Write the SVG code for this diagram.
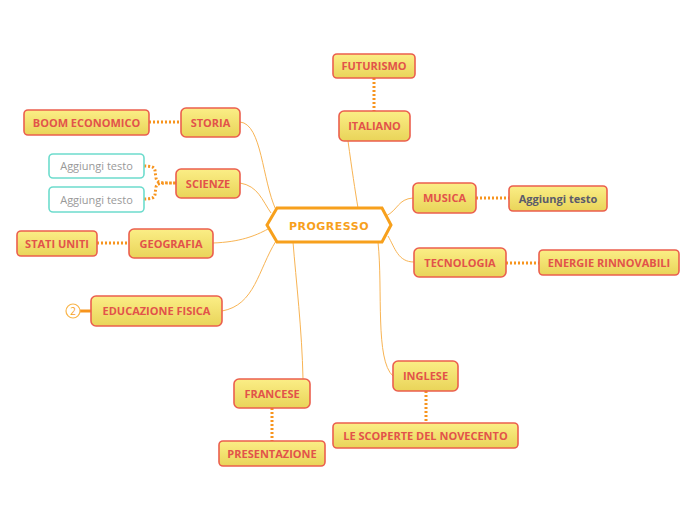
<svg xmlns="http://www.w3.org/2000/svg" width="696" height="520" viewBox="0 0 696 520">
<defs>
<linearGradient id="yg" x1="0" y1="0" x2="0" y2="1">
<stop offset="0" stop-color="#fbee86"/>
<stop offset="1" stop-color="#e9d459"/>
</linearGradient>
</defs>
<style>
.n{fill:url(#yg);stroke:#eb5f4e;stroke-width:1.6}
.t{font-family:"Open Sans","DejaVu Sans",sans-serif;font-weight:bold;font-size:11px;fill:#e2534a;text-anchor:middle}
.g{font-family:"Open Sans","DejaVu Sans",sans-serif;font-size:11px;fill:#999;text-anchor:middle}
.w{fill:#fff;stroke:#6ddccd;stroke-width:1.6}
.c{fill:none;stroke:#f8b454;stroke-width:1}
.d{fill:none;stroke:#f7941d;stroke-width:3;stroke-dasharray:2 2}
</style>
<rect width="696" height="520" fill="#fff"/>
<g id="connectors">
<path class="c" d="M240,122 C262,124 262,180 276,210"/>
<path class="c" d="M348,141 C352,170 355,190 358,208"/>
<path class="c" d="M240,183 C258,186 262,200 271,213"/>
<path class="c" d="M213,243 C240,242 255,236 268,229"/>
<path class="c" d="M222,311 C255,305 258,270 276,241"/>
<path class="c" d="M303,379 C302,330 296,280 293,242"/>
<path class="c" d="M393,376 C375,360 383,290 378,242"/>
<path class="c" d="M413,198 C398,199 398,210 386,216"/>
<path class="c" d="M414,262 C398,262 395,248 388,236"/>
<path class="d" d="M374,78 V111"/>
<path class="d" d="M149,122 H181"/>
<path class="d" d="M144,166 C158,166 154,170 156,177 C156,183 160,183 176,183 M144,199 C158,199 154,195 156,188 C156,183 160,183 176,183"/>
<path class="d" d="M97,243 H129"/>
<path class="d" d="M476,198 H509"/>
<path class="d" d="M506,263 H539"/>
<path class="d" d="M426,391 V423"/>
<path class="d" d="M272,408 V441"/>
<path d="M80,311 H91" stroke="#f7941d" stroke-width="3"/>
</g>
<g id="n-progresso">
<polygon points="267,225 277,208 382,208 391,225 382,242 277,242" fill="#fff" stroke="#f7a01c" stroke-width="3"/>
<text x="329" y="230" font-family="'DejaVu Sans',sans-serif" font-weight="900" font-size="11" fill="#f7a01c" text-anchor="middle" letter-spacing="0.5">PROGRESSO</text>
</g>
<g id="n-futurismo"><rect class="n" x="333" y="54" width="82" height="24" rx="4"/><text class="t" x="374" y="70">FUTURISMO</text></g>
<g id="n-italiano"><rect class="n" x="339" y="111" width="71" height="30" rx="5"/><text class="t" x="374.5" y="130">ITALIANO</text></g>
<g id="n-storia"><rect class="n" x="181" y="108" width="59" height="29" rx="5"/><text class="t" x="210.5" y="127">STORIA</text></g>
<g id="n-boom"><rect class="n" x="24" y="110" width="125" height="25" rx="4"/><text class="t" x="86.5" y="127">BOOM ECONOMICO</text></g>
<g id="n-scienze"><rect class="n" x="176" y="169" width="64" height="29" rx="5"/><text class="t" x="208" y="188">SCIENZE</text></g>
<g id="n-agg1"><rect class="w" x="49" y="154" width="95" height="24" rx="4"/><text class="g" x="96.5" y="170">Aggiungi testo</text></g>
<g id="n-agg2"><rect class="w" x="49" y="187" width="95" height="25" rx="4"/><text class="g" x="96.5" y="204">Aggiungi testo</text></g>
<g id="n-geografia"><rect class="n" x="129" y="229" width="84" height="29" rx="5"/><text class="t" x="171" y="248">GEOGRAFIA</text></g>
<g id="n-stati"><rect class="n" x="17" y="231" width="80" height="25" rx="4"/><text class="t" x="57" y="248">STATI UNITI</text></g>
<g id="n-edu"><rect class="n" x="91" y="296" width="131" height="30" rx="5"/><text class="t" x="156.5" y="315">EDUCAZIONE FISICA</text></g>
<g id="n-badge"><circle cx="73" cy="311" r="7" fill="#fff" stroke="#f9b54a" stroke-width="1.2"/><text x="73" y="315" font-family="'Open Sans',sans-serif" font-size="10" fill="#f7a01c" text-anchor="middle">2</text></g>
<g id="n-musica"><rect class="n" x="413" y="183" width="63" height="30" rx="5"/><text class="t" x="444.5" y="202">MUSICA</text></g>
<g id="n-agg3"><rect class="n" x="509" y="186" width="98" height="25" rx="4"/><text class="t" x="558" y="203" fill="#5a5a6a" style="fill:#5b5b6b">Aggiungi testo</text></g>
<g id="n-tecnologia"><rect class="n" x="414" y="248" width="92" height="29" rx="5"/><text class="t" x="460" y="267">TECNOLOGIA</text></g>
<g id="n-energie"><rect class="n" x="539" y="250" width="140" height="25" rx="4"/><text class="t" x="609" y="267">ENERGIE RINNOVABILI</text></g>
<g id="n-inglese"><rect class="n" x="393" y="361" width="65" height="30" rx="5"/><text class="t" x="425.5" y="380">INGLESE</text></g>
<g id="n-scoperte"><rect class="n" x="333" y="423" width="185" height="25" rx="4"/><text class="t" x="425.5" y="440">LE SCOPERTE DEL NOVECENTO</text></g>
<g id="n-francese"><rect class="n" x="234" y="379" width="76" height="29" rx="5"/><text class="t" x="272" y="398">FRANCESE</text></g>
<g id="n-presentazione"><rect class="n" x="219" y="441" width="106" height="25" rx="4"/><text class="t" x="272" y="458">PRESENTAZIONE</text></g>
</svg>
